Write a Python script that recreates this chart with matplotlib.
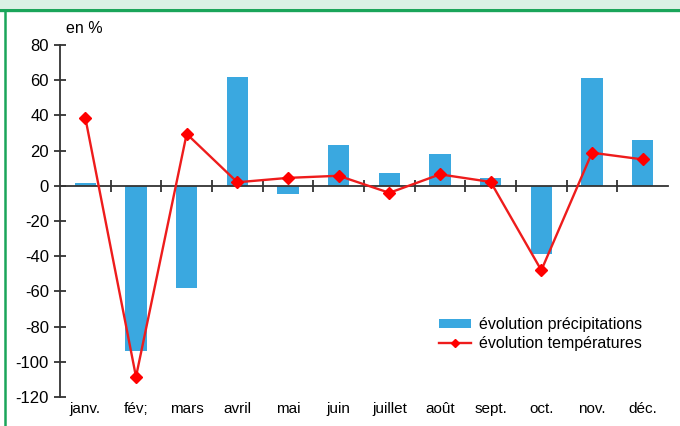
import matplotlib
matplotlib.use("Agg")
import matplotlib.pyplot as plt
from matplotlib.patches import Rectangle
from matplotlib.lines import Line2D

plt.rcParams['font.family'] = ['Liberation Sans', 'DejaVu Sans']

months = ['janv.', 'fév;', 'mars', 'avril', 'mai', 'juin', 'juillet',
          'août', 'sept.', 'oct.', 'nov.', 'déc.']
precip = [1.5, -94, -58, 62, -4.5, 23, 7, 18, 4.7, -39, 61, 26]
temper = [38.6, -108.5, 29.5, 2, 4.5, 5.7, -4, 6.5, 2.2, -48, 18.8, 15]
yticks = [80, 60, 40, 20, 0, -20, -40, -60, -80, -100, -120]

fig = plt.figure(figsize=(6.8, 4.26), dpi=100)

# green frame on top and left
fig.patches.append(Rectangle((0, 1 - 8 / 426), 1, 8 / 426, transform=fig.transFigure,
                             facecolor='#d9f1e5', edgecolor='none', zorder=0))
fig.add_artist(Line2D([0, 1], [1 - 9.5 / 426, 1 - 9.5 / 426], transform=fig.transFigure,
                      color='#1aa55a', lw=2.4))
fig.add_artist(Line2D([5 / 680, 5 / 680], [0, 1 - 9.5 / 426], transform=fig.transFigure,
                      color='#1aa55a', lw=1.8))

ax = fig.add_axes([60 / 680, 1 - 397 / 426, 608 / 680, 352 / 426])
x = range(len(months))
bars = ax.bar(x, precip, width=0.42, color='#3aa8e0', zorder=2)
line, = ax.plot(x, temper, color='#ee1c1c', lw=1.7, marker='D', markersize=6.5,
                markerfacecolor='#ff0000', markeredgecolor='#ff0000', zorder=3)

ax.set_xlim(-0.5, 11.5)
ax.set_ylim(-120, 80)
for s in ['top', 'right']:
    ax.spines[s].set_visible(False)
ax.spines['bottom'].set_position(('data', 0))
ax.spines['bottom'].set_color('#333333')
ax.spines['left'].set_color('#333333')
ax.spines['bottom'].set_linewidth(1.3)
ax.spines['left'].set_linewidth(1.3)

ax.set_yticks(yticks)
ax.set_yticklabels([str(v) for v in yticks], fontsize=12)
ax.tick_params(axis='y', direction='inout', length=8, width=1.3, color='#333333', pad=4)
ax.set_xticks([i + 0.5 for i in range(11)])
ax.set_xticklabels([])
ax.tick_params(axis='x', direction='inout', length=8, width=1.3, color='#333333')

for i, m in enumerate(months):
    ax.text(i, -0.015, m, transform=ax.get_xaxis_transform(), ha='center', va='top',
            fontsize=11)

ax.text(0.01, 1.025, 'en %', transform=ax.transAxes, ha='left', va='bottom', fontsize=11.5)

leg_line = Line2D([], [], color='#ee1c1c', lw=1.7, marker='D', markersize=4,
                  markerfacecolor='#ff0000', markeredgecolor='#ff0000')
ax.legend([bars, leg_line], ['évolution précipitations', 'évolution températures'],
          loc='lower right', bbox_to_anchor=(0.97, 0.107), frameon=False, fontsize=11.5,
          handlelength=2.0, handleheight=0.45, labelspacing=0.25, borderpad=0,
          handletextpad=0.5)

fig.savefig('out.png', dpi=100)
